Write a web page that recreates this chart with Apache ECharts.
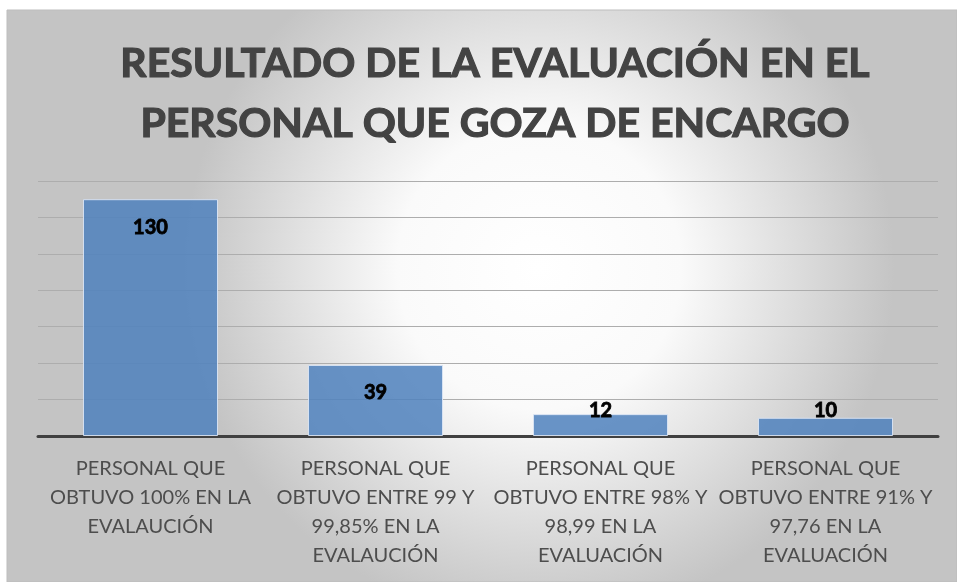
<!DOCTYPE html>
<html>
<head>
<meta charset="utf-8">
<script src="https://cdn.jsdelivr.net/npm/echarts@6/dist/echarts.min.js"></script>
<style>
html,body{margin:0;padding:0;background:#fff;}
#chart{width:957px;height:582px;}
</style>
</head>
<body>
<div id="chart"></div>
<script>
const titleLines = ['RESULTADO DE LA EVALUACIÓN EN EL', 'PERSONAL QUE GOZA DE ENCARGO'];
const categories = [
  'PERSONAL QUE\nOBTUVO 100% EN LA\nEVALAUCIÓN',
  'PERSONAL QUE\nOBTUVO ENTRE 99 Y\n99,85% EN LA\nEVALAUCIÓN',
  'PERSONAL QUE\nOBTUVO ENTRE 98% Y\n98,99 EN LA\nEVALUACIÓN',
  'PERSONAL QUE\nOBTUVO ENTRE 91% Y\n97,76 EN LA\nEVALUACIÓN'
];
const values = [130, 39, 12, 10];
const yMin = 0, yMax = 140, yInterval = 20;

const chart = echarts.init(document.getElementById('chart'), null, {renderer: 'canvas'});
const seriesData = values.map(v => ({
  value: v,
  label: v < 20
    ? {position: 'insideBottom', distance: 15}
    : {position: 'insideTop', distance: 18}
}));
chart.setOption({
  animation: false,
  graphic: [{
    type: 'rect',
    z: -10,
    silent: true,
    shape: {x: 7, y: 10, width: 950, height: 572},
    style: {
      fill: new echarts.graphic.RadialGradient(0.56, 0.45, 0.62, [
        {offset: 0, color: '#ffffff'},
        {offset: 0.4, color: '#fafafa'},
        {offset: 1, color: '#c4c4c4'}
      ]),
      stroke: '#bdbdbd',
      lineWidth: 1
    }
  }],
  title: {
    text: titleLines.join('\n'),
    left: 490,
    textAlign: 'center',
    top: 29,
    textStyle: {
      fontFamily: 'Lato',
      fontWeight: 'bold',
      fontSize: 41,
      lineHeight: 60,
      color: '#434343',
      textBorderColor: '#434343',
      textBorderWidth: 1.2
    }
  },
  grid: {left: 38, right: 19, top: 181, bottom: 146},
  xAxis: {
    type: 'category',
    data: categories,
    axisLine: {show: true, lineStyle: {color: '#404040', width: 3}},
    axisTick: {show: false},
    axisLabel: {
      interval: 0,
      margin: 18,
      fontFamily: 'Lato',
      fontSize: 20,
      lineHeight: 29,
      color: '#4d4d4d'
    }
  },
  yAxis: {
    type: 'value',
    min: yMin,
    max: yMax,
    interval: yInterval,
    axisLabel: {show: false},
    axisLine: {show: false},
    axisTick: {show: false},
    splitLine: {lineStyle: {color: '#adadad', width: 1}}
  },
  series: [{
    type: 'bar',
    data: seriesData,
    barCategoryGap: '40%',
    itemStyle: {
      color: 'rgba(79,129,189,0.85)',
      borderColor: 'rgba(220,230,245,0.9)',
      borderWidth: 1
    },
    label: {
      show: true,
      color: '#000000',
      fontFamily: 'Lato',
      fontWeight: 'bold',
      fontSize: 20,
      textBorderColor: '#000000',
      textBorderWidth: 0.8
    }
  }]
});
</script>
</body>
</html>
